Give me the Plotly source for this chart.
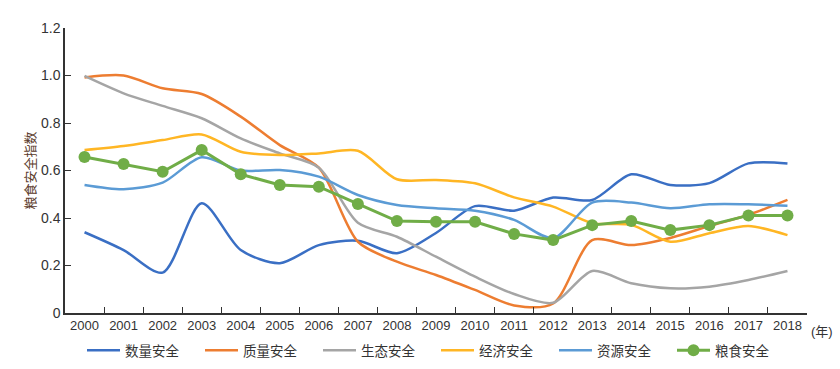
import plotly.graph_objects as go

years = [str(y) for y in range(2000, 2019)]

quantity = [0.34, 0.265, 0.17, 0.462, 0.265, 0.21, 0.286, 0.304, 0.252, 0.337, 0.45, 0.431, 0.486, 0.476, 0.584, 0.539, 0.547, 0.63, 0.63]
quality = [0.992, 1.0, 0.946, 0.922, 0.827, 0.707, 0.612, 0.30, 0.216, 0.16, 0.097, 0.032, 0.04, 0.307, 0.286, 0.316, 0.366, 0.413, 0.476]
ecology = [0.998, 0.925, 0.872, 0.82, 0.735, 0.672, 0.612, 0.38, 0.321, 0.237, 0.153, 0.08, 0.043, 0.177, 0.125, 0.104, 0.111, 0.139, 0.177]
economy = [0.686, 0.703, 0.728, 0.752, 0.679, 0.665, 0.672, 0.683, 0.563, 0.56, 0.546, 0.487, 0.448, 0.378, 0.371, 0.30, 0.336, 0.366, 0.328]
resource = [0.539, 0.521, 0.549, 0.656, 0.60, 0.602, 0.574, 0.497, 0.455, 0.441, 0.431, 0.392, 0.315, 0.465, 0.465, 0.441, 0.458, 0.458, 0.452]
food = [0.657, 0.627, 0.595, 0.686, 0.584, 0.539, 0.532, 0.459, 0.387, 0.384, 0.384, 0.333, 0.307, 0.37, 0.387, 0.349, 0.37, 0.411, 0.411]

names = ["数量安全", "质量安全", "生态安全", "经济安全", "资源安全"]
colors = ["#3a6fc4", "#ed7d31", "#a5a5a5", "#ffb624", "#5b9bd5"]
series = [quantity, quality, ecology, economy, resource]

ytickvals = [0, 0.2, 0.4, 0.6, 0.8, 1.0, 1.2]
yticktext = ["0", "0.2", "0.4", "0.6", "0.8", "1.0", "1.2"]

fig = go.Figure()
for n, c, s in zip(names, colors, series):
    fig.add_trace(go.Scatter(x=years, y=s, name=n, mode="lines",
                             line=dict(color=c, width=2.5, shape="spline", smoothing=0.8)))
fig.add_trace(go.Scatter(x=years, y=food, name="粮食安全", mode="lines+markers",
                         line=dict(color="#70ad47", width=3),
                         marker=dict(color="#70ad47", size=12)))

font = "Liberation Sans, Noto Sans CJK SC, sans-serif"
fig.update_layout(
    width=840, height=369,
    margin=dict(l=65, r=33, t=28, b=56, autoexpand=False),
    plot_bgcolor="white", paper_bgcolor="white",
    font=dict(family=font, size=13, color="#333333"),
    showlegend=True,
    legend=dict(orientation="h", x=0.5, xanchor="center", xref="paper",
                yref="container", y=0.092, yanchor="top",
                entrywidth=70, entrywidthmode="pixels", itemwidth=33,
                font=dict(size=13.5, color="#333333")),
    xaxis=dict(type="category", showline=True, linecolor="#333333", linewidth=1.5,
               ticks="inside", ticklen=6, tickcolor="#333333", tickson="boundaries",
               showgrid=False, zeroline=False, range=[-0.5, 18.5],
               tickfont=dict(size=13, color="#333333")),
    yaxis=dict(range=[0, 1.2], tickvals=ytickvals, ticktext=yticktext,
               showline=True, linecolor="#333333", linewidth=1.5,
               ticks="inside", ticklen=6, tickcolor="#333333",
               showgrid=False, zeroline=False,
               tickfont=dict(size=14, color="#333333"),
               title=dict(text="粮食安全指数", font=dict(size=13, color="#5a3a2a"), standoff=2)),
)
fig.add_annotation(text="(年)", xref="paper", yref="paper", x=1.003, y=-0.03,
                   xanchor="left", yanchor="top", showarrow=False,
                   font=dict(size=13, color="#333333"))

fig.write_html("out.html", config={"displayModeBar": False},
               post_script="document.body.style.margin='0';")
